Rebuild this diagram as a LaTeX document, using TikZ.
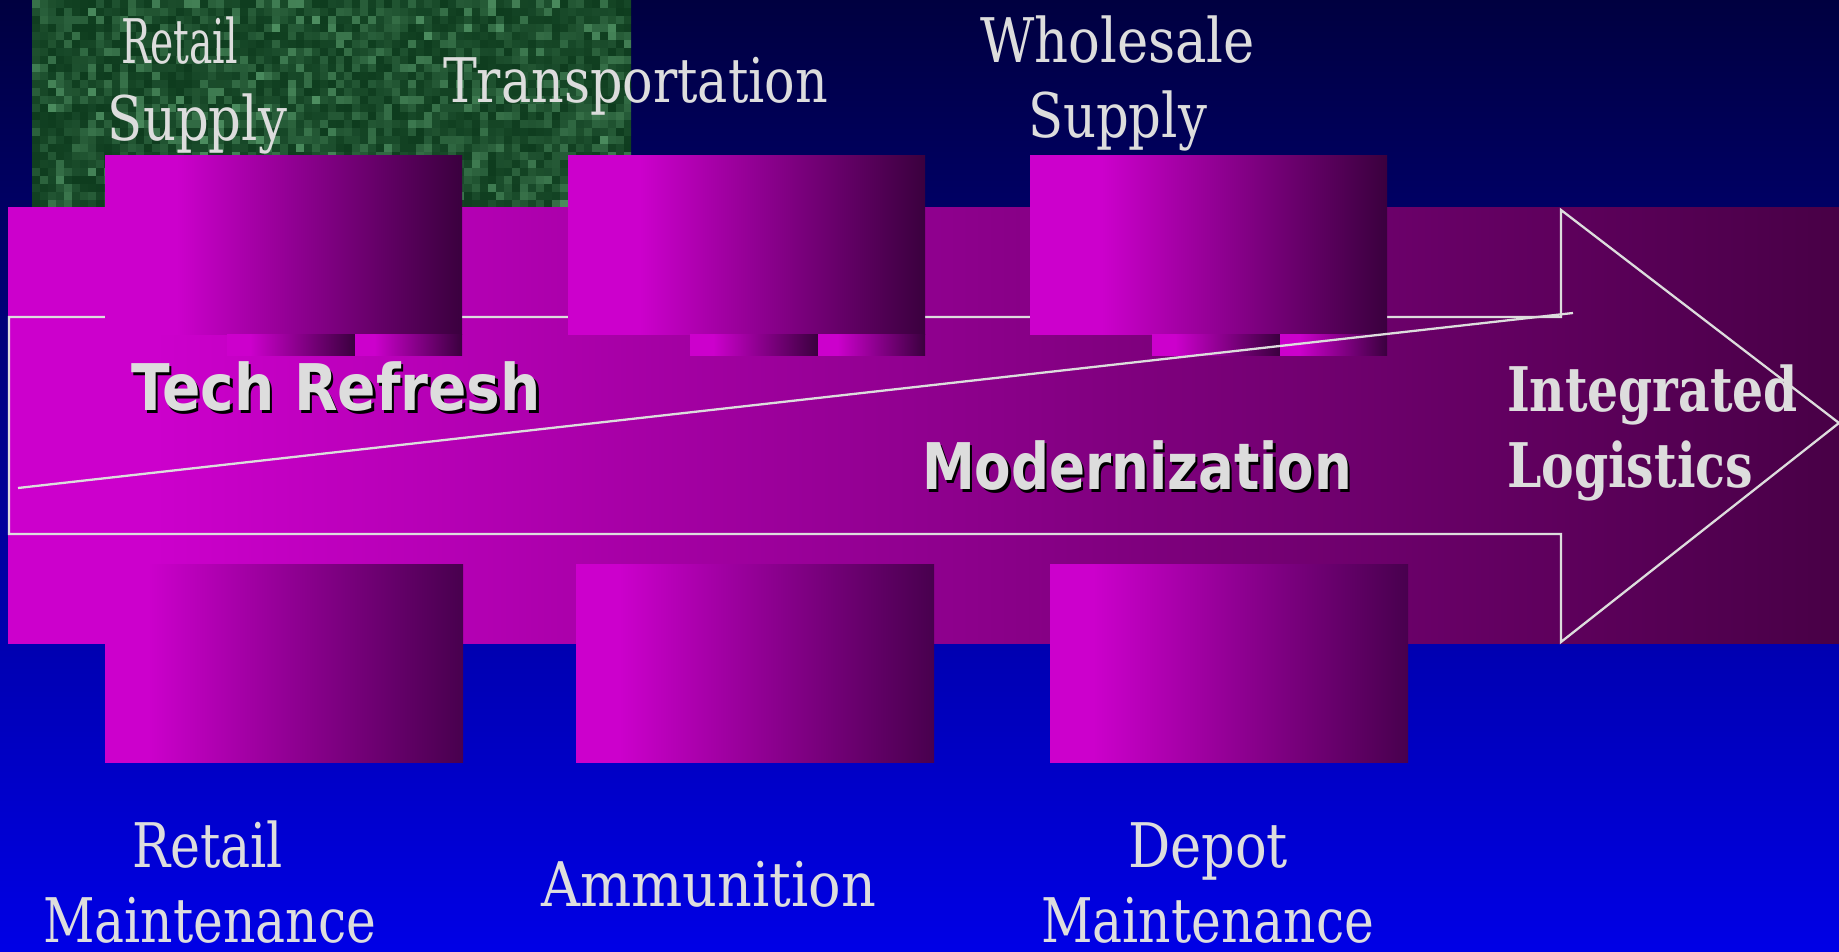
\documentclass[tikz,border=0pt]{standalone}
\usepackage{fontspec}
\usepackage{graphicx}
\usepackage{tikz}
\setmainfont{DejaVu Serif}
\newfontfamily\phasefont{DejaVu Sans}
\newcommand{\fitw}[2]{\resizebox{#1}{\height}{#2}}
\definecolor{navytop}{RGB}{0,0,64}
\definecolor{navybot}{RGB}{0,0,230}
\definecolor{hot}{RGB}{204,0,204}
\definecolor{banddark}{RGB}{72,0,70}
\definecolor{boxdark}{RGB}{58,0,62}
\definecolor{lowdark}{RGB}{72,0,78}
\definecolor{mossdark}{RGB}{14,60,30}
\definecolor{mosslight}{RGB}{96,166,116}
\definecolor{paper}{RGB}{221,221,221}
\pgfdeclarehorizontalshading{bandfade}{100bp}{color(0bp)=(hot); color(25bp)=(hot); color(29bp)=(hot); color(75bp)=(banddark); color(100bp)=(banddark)}
\pgfdeclarehorizontalshading{boxfade}{100bp}{color(0bp)=(hot); color(25bp)=(hot); color(35bp)=(hot); color(75bp)=(boxdark); color(100bp)=(boxdark)}
\pgfdeclarehorizontalshading{lowfade}{100bp}{color(0bp)=(hot); color(25bp)=(hot); color(31bp)=(hot); color(75bp)=(lowdark); color(100bp)=(lowdark)}
\pgfdeclarehorizontalshading{stubfade}{100bp}{color(0bp)=(hot); color(25bp)=(hot); color(34bp)=(hot); color(75bp)=(boxdark); color(100bp)=(boxdark)}
\tikzstyle{rim}=[draw=paper, line width=0.65pt]
\tikzstyle{areabox}=[shading=boxfade]
\tikzstyle{lowbox}=[shading=lowfade]
\tikzstyle{stub}=[shading=stubfade]
\tikzstyle{areatext}=[anchor=base west, inner sep=0, outer sep=0, text=paper,
                      font=\fontsize{17.5}{20}\selectfont]
\tikzstyle{phasetext}=[areatext, font=\phasefont\bfseries\fontsize{18.3}{21}\selectfont]
\tikzstyle{goaltext}=[areatext, font=\bfseries\fontsize{17.5}{20}\selectfont]

\begin{document}
\begin{tikzpicture}[x=0.1mm, y=-0.1mm]
    \useasboundingbox (0,0) rectangle (1839,952);
    \shade[top color=navytop, bottom color=navybot] (0,0) rectangle (1839,952);
    % marbled panel behind the top labels
    \begin{scope}
        \clip (32,0) rectangle (631,208);
        \pgfmathsetseed{11}
        \foreach \i in {0,...,74}
            \foreach \j in {0,...,25} {
                \pgfmathsetmacro{\g}{80*rnd*rnd}
                \fill[mosslight!\g!mossdark] (32+8*\i, 8*\j) rectangle +(8,8);
            }
    \end{scope}
    % the band and the arrow drawn on it
    \shade[shading=bandfade] (8,208) rectangle (1839,643);
    \draw[rim] (9,317) -- (1561,317) -- (1561,210) -- (1839,423) -- (1561,642) -- (1561,534) -- (9,534) -- cycle;
    \foreach \x in {105,568,1030} {
        \shade[areabox] (\x,156) rectangle +(357,179);
        \shade[stub] (\x+122,335) rectangle +(128,21);
        \shade[stub] (\x+250,335) rectangle +(107,21);
    }
    \foreach \x in {105,576,1050}
        \shade[lowbox] (\x,564) rectangle +(358,198);
    \draw[rim] (18,488) -- (1573,313);

    \node[areatext] (retailS1) at (121,64) {\fitw{11.7mm}{Retail}};
    \node[areatext] (retailS2) at (108,141) {\fitw{17.9mm}{Supply}};
    \node[areatext] (transp) at (443,103) {\fitw{38.5mm}{Transportation}};
    \node[areatext] (whole1) at (980,63) {\fitw{27.5mm}{Wholesale}};
    \node[areatext] (whole2) at (1028,138) {\fitw{17.9mm}{Supply}};
    \node[areatext] (retailM1) at (132,867) {\fitw{15.1mm}{Retail}};
    \node[areatext] (retailM2) at (43,942) {\fitw{33.3mm}{Maintenance}};
    \node[areatext] (ammo) at (541,906) {\fitw{33.5mm}{Ammunition}};
    \node[areatext] (depot1) at (1128,867) {\fitw{16mm}{Depot}};
    \node[areatext] (depot2) at (1041,942) {\fitw{33.3mm}{Maintenance}};

    \node[phasetext, text=black] (techS) at (133.5,413.5) {\fitw{41mm}{Tech Refresh}};
    \node[phasetext] (tech) at (131,411) {\fitw{41mm}{Tech Refresh}};
    \node[phasetext, text=black] (modS) at (924.5,492.5) {\fitw{43mm}{Modernization}};
    \node[phasetext] (mod) at (922,490) {\fitw{43mm}{Modernization}};

    \node[goaltext] (goal1) at (1507,412) {\fitw{29.1mm}{Integrated}};
    \node[goaltext] (goal2) at (1507,488) {\fitw{24.6mm}{Logistics}};
\end{tikzpicture}
\end{document}
